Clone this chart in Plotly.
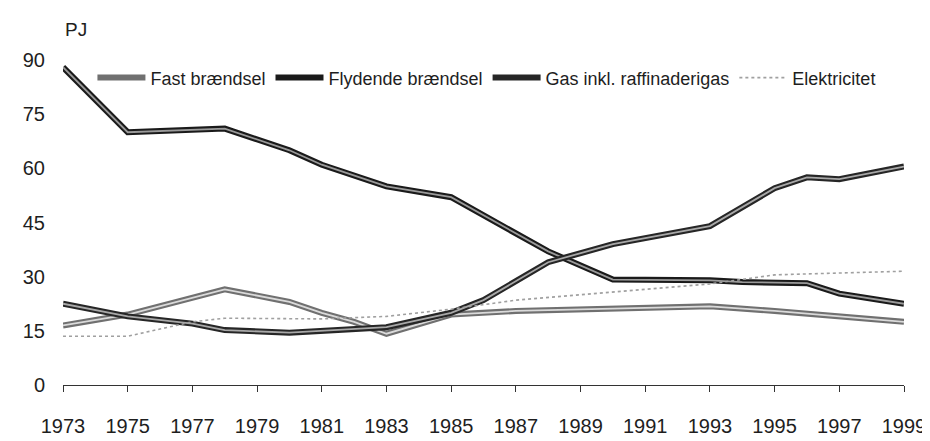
import plotly.graph_objects as go

# ---- data ----
fast_years = [1973, 1975, 1978, 1980, 1981, 1982, 1983, 1985, 1987, 1989, 1991, 1993, 1995, 1997, 1999]
fast_vals = [16.5, 19.5, 26.5, 23.0, 20.0, 17.5, 14.2, 19.5, 20.5, 21.0, 21.5, 21.8, 20.5, 19.0, 17.5]

flyd_years = [1973, 1975, 1978, 1980, 1981, 1983, 1985, 1988, 1990, 1993, 1994, 1996, 1997, 1999]
flyd_vals = [88.0, 70.0, 71.0, 65.0, 61.0, 55.0, 52.0, 37.0, 29.2, 29.0, 28.5, 28.2, 25.3, 22.5]

gas_years = [1973, 1975, 1977, 1978, 1980, 1981, 1983, 1985, 1986, 1988, 1990, 1993, 1995, 1996, 1997, 1999]
gas_vals = [22.5, 19.0, 17.0, 15.2, 14.5, 15.0, 16.0, 20.0, 23.5, 34.0, 39.0, 44.0, 54.5, 57.5, 57.0, 60.5]

el_years = [1973, 1975, 1976, 1977, 1978, 1981, 1983, 1985, 1987, 1989, 1991, 1993, 1995, 1999]
el_vals = [13.5, 13.5, 15.5, 17.5, 18.5, 18.3, 19.0, 21.0, 23.5, 25.0, 26.5, 28.0, 30.5, 31.5]

series_names = ["Fast brændsel", "Flydende brændsel", "Gas inkl. raffinaderigas", "Elektricitet"]
x_ticks = list(range(1973, 2000, 2))
y_ticks = [0, 15, 30, 45, 60, 75, 90]

FONT = "Liberation Sans, Arial, sans-serif"
TXT = "#1e1e1e"

fig = go.Figure()

def double_line(xs, ys, name, outer, inner, wo=6, wi=1.8):
    fig.add_trace(go.Scatter(x=xs, y=ys, mode="lines", name=name, legendgroup=name,
                             line=dict(color=outer, width=wo), hoverinfo="skip"))
    fig.add_trace(go.Scatter(x=xs, y=ys, mode="lines", name=name, legendgroup=name,
                             showlegend=False, line=dict(color=inner, width=wi), hoverinfo="skip"))

double_line(fast_years, fast_vals, series_names[0], "#707070", "#dadada")
double_line(flyd_years, flyd_vals, series_names[1], "#1a1a1a", "#9a9a9a")
double_line(gas_years, gas_vals, series_names[2], "#262626", "#a8a8a8")
fig.add_trace(go.Scatter(x=el_years, y=el_vals, mode="lines", name=series_names[3],
                         line=dict(color="#a0a0a0", width=1.6, dash="dot"), hoverinfo="skip"))

fig.update_layout(
    width=930, height=441,
    margin=dict(l=55, r=34, t=52, b=48),
    paper_bgcolor="white", plot_bgcolor="white",
    font=dict(family=FONT, color=TXT, size=18),
    showlegend=True,
    legend=dict(orientation="h", x=0.035, y=0.945, xanchor="left", yanchor="middle",
                font=dict(family=FONT, size=18, color=TXT), bgcolor="rgba(0,0,0,0)",
                itemwidth=48, tracegroupgap=0),
    xaxis=dict(range=[1973, 1999], tickvals=x_ticks, ticktext=[str(v) for v in x_ticks],
               showgrid=False, zeroline=False, showline=True, linecolor="#333", linewidth=1.2,
               ticks="outside", ticklen=6, tickcolor="#333", ticklabelstandoff=17,
               tickfont=dict(family=FONT, size=20, color=TXT)),
    yaxis=dict(range=[0, 90], tickvals=y_ticks, ticktext=[str(v) for v in y_ticks],
               showgrid=False, zeroline=False, showline=False, ticks="",
               ticklabelstandoff=17,
               tickfont=dict(family=FONT, size=20, color=TXT)),
    annotations=[dict(text="PJ", xref="paper", yref="paper", x=0.0, y=1.0, yshift=31,
                      xanchor="left", yanchor="middle", showarrow=False,
                      font=dict(family=FONT, size=19, color=TXT))],
)

fig.write_html("out.html")
